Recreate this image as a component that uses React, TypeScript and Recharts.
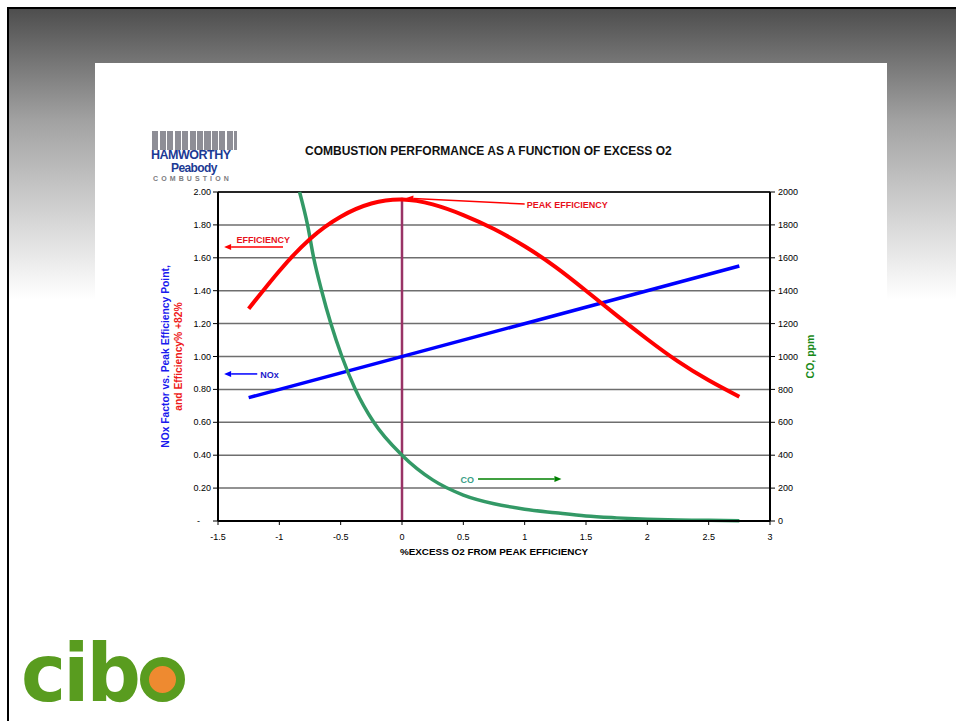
import {
  ComposedChart, Line, CartesianGrid, XAxis, YAxis, ReferenceLine,
} from 'recharts';

// % excess O2 from peak efficiency (x) and series values
const effX = [-1.25, -1, -0.75, -0.5, -0.25, 0, 0.25, 0.5, 0.75, 1, 1.25, 1.5, 1.75, 2, 2.25, 2.5, 2.75];
const efficiency = [1.29, 1.52, 1.715, 1.85, 1.93, 1.955, 1.925, 1.86, 1.775, 1.67, 1.545, 1.4, 1.25, 1.105, 0.97, 0.855, 0.755];

const noxX = [-1.25, 2.75];
const nox = [0.75, 1.55];

const coX = [-0.835, -0.77, -0.72, -0.655, -0.58, -0.49, -0.38, -0.23, 0, 0.25, 0.5, 0.75, 1, 1.25, 1.5, 1.75, 2, 2.25, 2.5, 2.75];
const co = [2000, 1800, 1600, 1400, 1200, 1000, 800, 600, 400, 250, 158, 105, 72, 50, 30, 19, 11, 6, 4, 2];

const xTicks = [-1.5, -1, -0.5, 0, 0.5, 1, 1.5, 2, 2.5, 3];
const leftTicks = [0, 0.2, 0.4, 0.6, 0.8, 1, 1.2, 1.4, 1.6, 1.8, 2];
const rightTicks = [0, 200, 400, 600, 800, 1000, 1200, 1400, 1600, 1800, 2000];

const effData = effX.map((x, i) => ({ x, eff: efficiency[i] }));
const noxData = noxX.map((x, i) => ({ x, nox: nox[i] }));
const coData = coX.map((x, i) => ({ x, co: co[i] }));

const FONT = '"Liberation Sans", Arial, sans-serif';

// arrows with text, drawn in left-axis units
const notes = [
  { from: { x: 1.0, y: 1.927 }, to: { x: 0.035, y: 1.963 }, text: 'PEAK EFFICIENCY', color: '#ff0000', textColor: '#e8101a', anchor: 'start', dx: 2, dy: 4 },
  { from: { x: -0.97, y: 1.666 }, to: { x: -1.45, y: 1.666 }, text: 'EFFICIENCY', color: '#ff0000', textColor: '#e8101a', anchor: 'end', dx: 7, dy: -4 },
  { from: { x: -1.18, y: 0.894 }, to: { x: -1.45, y: 0.894 }, text: 'NOx', color: '#0000ff', textColor: '#1a1acc', anchor: 'start', dx: 3, dy: 4 },
  { from: { x: 0.62, y: 0.255 }, to: { x: 1.3, y: 0.255 }, text: 'CO', color: '#008000', textColor: '#3a9e86', anchor: 'end', dx: -4, dy: 4 },
];

const arrowShape = (n: any) => (p: any) => {
  const { x1, y1, x2, y2 } = p;
  const a = Math.atan2(y2 - y1, x2 - x1);
  const L = 7, W = 3;
  const bx = x2 - L * Math.cos(a);
  const by = y2 - L * Math.sin(a);
  const pts = `${x2},${y2} ${bx - W * Math.sin(a)},${by + W * Math.cos(a)} ${bx + W * Math.sin(a)},${by - W * Math.cos(a)}`;
  return (
    <g>
      <line x1={x1} y1={y1} x2={bx} y2={by} stroke={n.color} strokeWidth={1.5} />
      <polygon points={pts} fill={n.color} />
      <text x={x1 + n.dx} y={y1 + n.dy} textAnchor={n.anchor} fontSize={9} fontWeight="bold" fill={n.textColor} fontFamily={FONT}>
        {n.text}
      </text>
    </g>
  );
};

const LeftTitle = (props: any) => {
  const { x, y, height } = props.viewBox;
  const cy = y + height / 2;
  const b = x + 25;
  const r = x + 38;
  return (
    <g fontFamily={FONT} fontSize={10.3} fontWeight="bold">
      <text x={b} y={cy} transform={`rotate(-90, ${b}, ${cy})`} textAnchor="middle" dominantBaseline="central" fill="#1a1aee">
        NOx Factor vs. Peak Efficiency Point,
      </text>
      <text x={r} y={cy} transform={`rotate(-90, ${r}, ${cy})`} textAnchor="middle" dominantBaseline="central" fill="#ee1a1a">
        and Efficiency% +82%
      </text>
    </g>
  );
};

const RightTitle = (props: any) => {
  const { x, y, height } = props.viewBox;
  const cy = y + height / 2;
  const c = x + 40;
  return (
    <text x={c} y={cy} transform={`rotate(-90, ${c}, ${cy})`} textAnchor="middle" dominantBaseline="central"
      fontFamily={FONT} fontSize={10.5} fontWeight="bold" fill="#1a8a1a">
      CO, ppm
    </text>
  );
};

const tickStyle = { fontSize: 9, fill: '#000', fontFamily: FONT };

const LeftTick = (props: any) => {
  const { x, y, payload } = props;
  const zero = payload.value === 0;
  return (
    <text x={zero ? x - 11 : x} y={y} dy={3} textAnchor="end" fontSize={9} fill="#000" fontFamily={FONT}>
      {zero ? '-' : Number(payload.value).toFixed(2)}
    </text>
  );
};

export default function App() {
  return (
    <div style={{ position: 'fixed', left: 0, top: 0, width: 956, height: 721, background: '#fff', overflow: 'hidden', fontFamily: FONT }}>
      <div style={{
        position: 'absolute', left: 7, top: 7, width: 949, height: 714,
        borderLeft: '2px solid #000', borderTop: '2px solid #000',
        background: 'linear-gradient(#4e4e4e 0px, #a2a2a2 112px, #ffffff 290px)',
      }} />
      <div style={{ position: 'absolute', left: 95, top: 63, width: 792, height: 658, background: '#fff' }} />

      {/* Hamworthy Peabody logo */}
      <div style={{ position: 'absolute', left: 152, top: 131, width: 85, height: 19,
        background: 'repeating-linear-gradient(to right, #8e8e96 0px, #8e8e96 6px, #fff 6px, #fff 7.5px)' }} />
      <div style={{ position: 'absolute', left: 151, top: 150, fontSize: 12.5, fontWeight: 'bold', color: '#1c3a94',
        letterSpacing: -0.5, lineHeight: '10px', whiteSpace: 'nowrap' }}>HAMWORTHY</div>
      <div style={{ position: 'absolute', left: 171, top: 163, fontSize: 12, fontWeight: 'bold', color: '#1c3a94',
        letterSpacing: -0.6, lineHeight: '10px' }}>Peabody</div>
      <div style={{ position: 'absolute', left: 153, top: 175, fontSize: 7, fontWeight: 'bold', color: '#7c7c80',
        letterSpacing: 3.1, lineHeight: '7px' }}>COMBUSTION</div>

      <div style={{ position: 'absolute', left: 305, top: 144, fontSize: 12, fontWeight: 'bold', color: '#111', whiteSpace: 'nowrap' }}>
        COMBUSTION PERFORMANCE AS A FUNCTION OF EXCESS O2
      </div>

      <div style={{ position: 'absolute', left: 140, top: 140 }}>
        <ComposedChart width={700} height={440} margin={{ top: 52, right: 10, bottom: 19, left: 0 }}>
          <CartesianGrid vertical={false} stroke="#6e6e6e" strokeWidth={1.5} yAxisId="left" />
          <XAxis type="number" dataKey="x" domain={[-1.5, 3]} ticks={xTicks} allowDataOverflow
            tick={tickStyle} tickSize={4} tickMargin={9} height={40}
            axisLine={{ stroke: '#000', strokeWidth: 2 }} tickLine={{ stroke: '#000' }}
            label={{ value: '%EXCESS O2 FROM PEAK EFFICIENCY', position: 'insideBottom', offset: 6, fontSize: 9.9, fontWeight: 'bold', fill: '#000', fontFamily: FONT }} />
          <YAxis yAxisId="left" type="number" domain={[0, 2]} ticks={leftTicks} width={78}
            tick={LeftTick} tickSize={5} tickMargin={2}
            axisLine={{ stroke: '#000', strokeWidth: 2 }} tickLine={{ stroke: '#000' }}
            label={{ content: LeftTitle }} />
          <YAxis yAxisId="co" orientation="right" type="number" domain={[0, 2000]} ticks={rightTicks} width={60}
            tick={tickStyle} tickSize={5} tickMargin={3}
            axisLine={{ stroke: '#000', strokeWidth: 2 }} tickLine={{ stroke: '#000' }}
            label={{ content: RightTitle }} />
          <ReferenceLine yAxisId="left" y={2} stroke="#000" strokeWidth={1.5} />
          <ReferenceLine yAxisId="left" segment={[{ x: 0, y: 1.965 }, { x: 0, y: 0 }]} stroke="#993366" strokeWidth={2.5} />
          <Line yAxisId="left" data={noxData} dataKey="nox" type="linear" stroke="#0000ff" strokeWidth={3.5} dot={false} isAnimationActive={false} />
          <Line yAxisId="co" data={coData} dataKey="co" type="monotone" stroke="#339966" strokeWidth={3.5} dot={false} isAnimationActive={false} />
          <Line yAxisId="left" data={effData} dataKey="eff" type="natural" stroke="#ff0000" strokeWidth={4} dot={false} isAnimationActive={false} />
          {notes.map((n) => (
            <ReferenceLine key={n.text} yAxisId="left" segment={[n.from, n.to]} shape={arrowShape(n)} />
          ))}
        </ComposedChart>
      </div>

      {/* cibo logo */}
      <div style={{ position: 'absolute', left: 21, top: 634, fontFamily: '"DejaVu Sans", sans-serif', fontWeight: 'bold',
        fontSize: 80, color: '#599c1f', letterSpacing: -3, lineHeight: '80px', transform: 'scaleX(0.95)', transformOrigin: 'left top' }}>cib</div>
      <div style={{ position: 'absolute', left: 140, top: 657, width: 27, height: 27, borderRadius: '50%',
        border: '9px solid #599c1f', background: '#ee8a30' }} />
    </div>
  );
}
